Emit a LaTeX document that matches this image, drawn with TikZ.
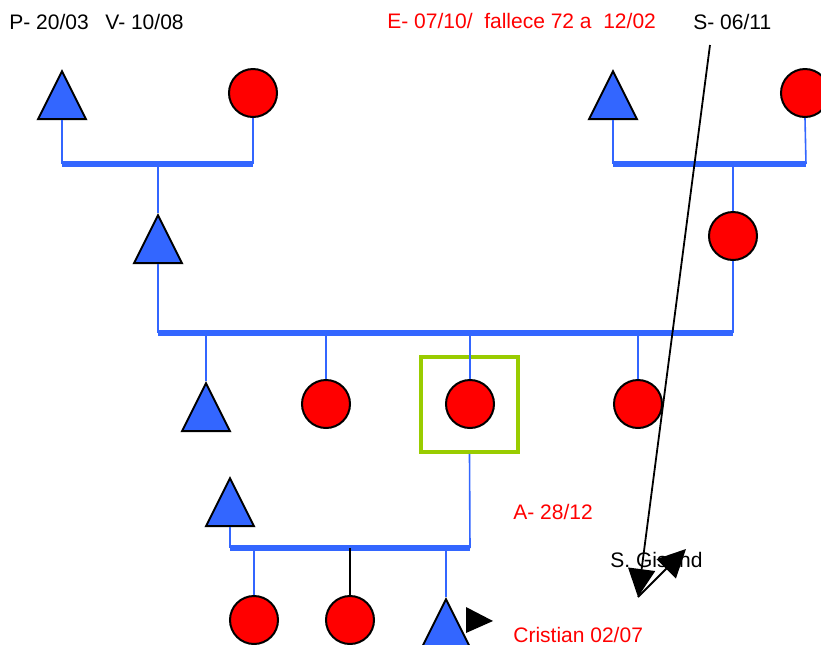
\documentclass[tikz,border=0pt]{standalone}
\usepackage{fontspec}
\setmainfont{Liberation Sans}
\usetikzlibrary{arrows.meta,shapes.geometric}
\definecolor{famblue}{HTML}{3366FF}
\definecolor{famred}{HTML}{FF0000}
\definecolor{famgreen}{HTML}{99CC00}

\begin{document}
\begin{tikzpicture}[x=0.5pt,y=-0.5pt,
	>={Triangle[length=14pt,width=13.5pt]},
	male/.style={isosceles triangle, isosceles triangle apex angle=53.13, shape border rotate=90, minimum width=24pt, minimum height=24pt, inner sep=0pt, draw=black, line width=1pt, fill=famblue, anchor=apex},
	female/.style={circle, minimum size=24pt, inner sep=0pt, draw=black, line width=1pt, fill=famred},
	link/.style={draw=famblue, line width=0.8pt},
	bar/.style={draw=famblue, line width=3.2pt},
	note/.style={anchor=base west, inner sep=0pt, font=\fontsize{10.5}{12}\selectfont}]
		%%%%% START %%%%%
		\useasboundingbox (0,0) rectangle (821,644);
		
		\node[note] (tp) at (9,29) {P- 20/03};
		\node[note] (tv) at (105,29) {V- 10/08};
		\node[note, text=famred] (te) at (387,28) {E- 07/10/\ \ fallece 72 a\ \ 12/02};
		\node[note] (ts) at (693,29) {S- 06/11};
		\node[note, text=famred] (ta) at (513,519) {A- 28/12};
		\node[note] (tg) at (610,567) {S. Gisand};
		\node[note, text=famred] (tc) at (513,642) {Cristian 02/07};
		
		\node[male] (pa) at (62,69) {};
		\node[female] (ma) at (253,93) {};
		\node[male] (pb) at (613,69) {};
		\node[female] (mb) at (805,93) {};
		\node[male] (hb) at (158,213) {};
		\node[female] (hc) at (733,236) {};
		
		\node[male] (k1) at (206,381) {};
		\node[female] (k2) at (326,404) {};
		\node[female] (k3) at (470,404) {};
		\node[female] (k4) at (638,404) {};
		\node[draw=famgreen, line width=1.8pt, minimum width=48.5pt, minimum height=47.5pt, inner sep=0pt] (sel) at (469.5,404.5) {};
		
		\node[male] (sp) at (230,476) {};
		\node[female] (g1) at (254,620) {};
		\node[female] (g2) at (350,620) {};
		\node[male] (g3) at (446,597) {};
		
		\coordinate (b1l) at (62,164);
		\coordinate (b1r) at (253,164);
		\coordinate (b2l) at (613,164);
		\coordinate (b2r) at (806,164);
		\coordinate (b3l) at (158,333);
		\coordinate (b3r) at (733,333);
		\coordinate (b4l) at (230,548);
		\coordinate (b4r) at (470,548);
		
		\draw[link] (pa.south) -- (b1l);
		\draw[link] (ma.south) -- (b1r);
		\draw[bar] (b1l) -- (b1r);
		\draw[link] (hb.apex |- b1l) -- (hb.apex);
		
		\draw[link] (pb.south) -- (b2l);
		\draw[link] (mb.south) -- (b2r);
		\draw[bar] (b2l) -- (b2r);
		\draw[link] (hc.north |- b2l) -- (hc.north);
		
		\draw[link] (hb.south) -- (b3l);
		\draw[link] (hc.south) -- (b3r);
		\draw[bar] (b3l) -- (b3r);
		\draw[link] (k1.apex |- b3l) -- (k1.apex);
		\draw[link] (k2.north |- b3l) -- (k2.north);
		\draw[link] (k3.north |- b3l) -- (k3.north);
		\draw[link] (k4.north |- b3l) -- (k4.north);
		
		\draw[link] (sp.south) -- (b4l);
		\draw[link] (sel.south) -- (b4r);
		\draw[bar] (b4l) -- (b4r);
		\draw[link] (g1.north |- b4l) -- (g1.north);
		\draw[line width=1pt] (g2.north |- b4l) -- (g2.north);
		\draw[link] (g3.apex |- b4l) -- (g3.apex);
		
		\fill (466,607) -- (493,621) -- (466,633) -- cycle;
		
		\coordinate (s0) at (710,45);
		\coordinate (s1) at (638,597);
		\coordinate (s2) at (686,549);
		\draw[line width=0.9pt, ->] (s0) -- (s1);
		\draw[line width=0.9pt, ->] (s1) -- (s2);
		
		%%%%% END %%%%%
	\end{tikzpicture}
\end{document}
